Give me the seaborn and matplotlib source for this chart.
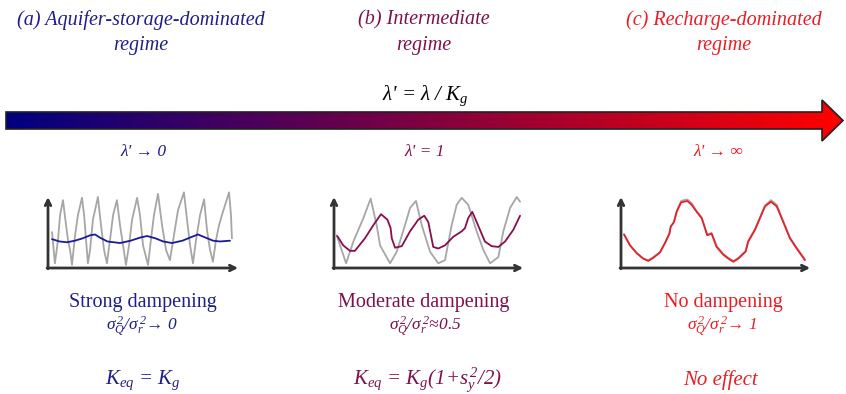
import matplotlib
matplotlib.use("Agg")
import matplotlib.pyplot as plt
import numpy as np
import seaborn as sns
from matplotlib.colors import LinearSegmentedColormap
from matplotlib.patches import Polygon

# ---------------------------------------------------------------------------
# Data (time 0..100, signal 0..10)
# ---------------------------------------------------------------------------
a_recharge_t = [2.1, 3.6, 5.2, 6.3, 7.8, 9.4, 10.4, 11.5, 12.5, 14.1, 15.6, 17.7,
                18.8, 19.8, 20.8, 21.9, 23.4, 26.0, 27.6, 29.2, 30.7, 32.3, 33.9,
                35.9, 37.5, 39.1, 40.6, 42.2, 43.8, 46.4, 47.9, 49.5, 52.1, 53.6,
                55.2, 57.3, 59.4, 61.5, 63.5, 65.6, 67.7, 70.8, 72.4, 74.0, 75.5,
                77.1, 79.2, 81.3, 82.8, 84.4, 85.9, 87.5, 89.1, 90.6, 94.3, 95.3,
                95.8]
a_recharge_y = [4.6, 0.6, 3.6, 6.8, 8.7, 5.5, 3.6, 2.3, 0.4, 4.2, 6.8, 9.0,
                6.8, 3.6, 0.6, 2.3, 6.2, 9.1, 5.5, 2.3, 0.6, 3.6, 6.8,
                8.7, 5.5, 2.9, 0.4, 2.9, 6.2, 9.0, 6.8, 2.9, 0.4, 3.6,
                6.8, 9.5, 5.5, 2.3, 1.0, 4.2, 7.4, 9.7, 6.2, 2.9, 0.6,
                3.6, 6.8, 8.8, 4.9, 2.3, 0.8, 3.6, 5.5, 6.8, 9.7, 6.8,
                3.8]
a_flow_t = [2.1, 6.0, 9.9, 14.0, 18.0, 22.0, 24.5, 27.0, 31.0, 37.5, 43.0, 48.0,
            51.6, 56.0, 60.0, 64.6, 70.0, 75.0, 78.1, 82.0, 86.0, 89.6, 94.8]
a_flow_y = [3.7, 3.4, 3.3, 3.5, 3.8, 4.2, 4.3, 3.9, 3.4, 3.2, 3.5, 3.9,
            4.1, 3.8, 3.4, 3.2, 3.5, 4.0, 4.3, 3.9, 3.5, 3.4, 3.5]

b_recharge_t = [1.4, 6.3, 10.1, 15.3, 19.1, 22.2, 24.0, 29.2, 32.7, 37.0, 39.6,
                42.7, 45.7, 50.0, 54.3, 57.8, 61.3, 63.9, 66.5, 69.9, 74.3, 77.8,
                81.3, 85.6, 88.2, 91.7, 95.2, 96.9]
b_recharge_y = [4.2, 0.6, 3.4, 6.4, 8.9, 5.5, 2.9, 0.6, 2.1, 5.5, 7.7,
                8.6, 5.5, 2.1, 0.6, 1.0, 5.5, 8.1, 9.0, 8.1, 4.7, 2.3,
                0.6, 1.4, 4.7, 7.7, 9.1, 8.5]
b_flow_t = [1.7, 4.8, 8.3, 10.9, 16.1, 20.5, 24.5, 27.8, 29.5, 30.1, 31.8, 35.3,
            39.6, 43.9, 47.0, 49.1, 51.7, 54.3, 57.8, 62.1, 66.5, 68.2, 69.9,
            72.0, 74.3, 78.6, 82.1, 85.6, 89.1, 93.4, 96.9]
b_flow_y = [4.1, 2.9, 2.2, 2.2, 3.8, 5.5, 6.9, 6.2, 5.1, 3.8, 2.6, 2.8,
            4.7, 6.2, 6.7, 5.9, 2.7, 2.5, 2.9, 4.0, 4.7, 5.1, 6.4,
            7.2, 5.9, 3.4, 2.8, 2.7, 3.4, 4.9, 6.7]

c_t = [1.6, 4.7, 8.2, 11.6, 14.2, 16.8, 20.3, 22.9, 25.2, 25.9, 27.6, 29.0,
       31.3, 34.5, 36.8, 39.4, 42.0, 43.2, 44.9, 47.2, 49.8, 53.3, 55.9, 58.5,
       61.1, 64.9, 66.3, 69.8, 72.4, 75.0, 78.1, 81.1, 84.5, 88.0, 91.5, 95.8]
c_recharge_y = [4.3, 2.9, 1.9, 1.2, 1.0, 1.4, 2.0, 3.2, 4.4, 5.3, 5.9, 7.3,
                8.6, 8.8, 8.3, 7.3, 6.5, 5.6, 4.3, 4.5, 2.8, 1.8, 1.3, 0.9,
                1.3, 2.2, 3.5, 5.0, 6.5, 8.0, 8.7, 8.1, 6.0, 3.9, 2.6, 1.1]
c_flow_y = [4.3, 2.9, 1.9, 1.2, 0.9, 1.3, 2.0, 3.2, 4.4, 5.3, 5.9, 7.2,
            8.4, 8.6, 8.1, 7.2, 6.4, 5.5, 4.2, 4.4, 2.7, 1.7, 1.2, 0.8,
            1.2, 2.1, 3.4, 4.9, 6.4, 7.9, 8.5, 7.9, 5.9, 3.8, 2.5, 1.0]

# ---------------------------------------------------------------------------
# Style
# ---------------------------------------------------------------------------
sns.set_theme(style="white")
plt.rcParams["font.family"] = ["Liberation Serif", "DejaVu Serif"]
plt.rcParams["mathtext.fontset"] = "custom"
plt.rcParams["mathtext.rm"] = "Liberation Serif:italic"
plt.rcParams["mathtext.it"] = "Liberation Serif:italic"
plt.rcParams["mathtext.default"] = "it"

COL_A = "#1f1f8c"
COL_B = "#80104c"
COL_C = "#ec1c24"
GREY = "#a6a6a6"
AXC = "#333333"

fig = plt.figure(figsize=(8.46, 3.94), dpi=100)
W, H = 846, 394

# Overlay axes in pixel units for the arrow and the text
bg = fig.add_axes([0, 0, 1, 1])
bg.set_xlim(0, W)
bg.set_ylim(H, 0)
bg.axis("off")

# Gradient arrow
cmap = LinearSegmentedColormap.from_list("regime", ["#000080", "#ff0000"])
arrow_xy = [(6, 112), (822, 112), (822, 100), (843, 120.5), (822, 141),
            (822, 129), (6, 129)]
grad = np.linspace(0, 1, 512).reshape(1, -1)
im = bg.imshow(grad, cmap=cmap, aspect="auto", extent=(6, 843, 141, 100),
               zorder=1)
clip = Polygon(arrow_xy, closed=True, transform=bg.transData)
im.set_clip_path(clip)
bg.add_patch(Polygon(arrow_xy, closed=True, fill=False, edgecolor="#222222",
                     linewidth=1.2, zorder=2))

# Titles
title_kw = dict(ha="center", va="center", fontsize=14.5, style="italic")
bg.text(141, 20, "(a) Aquifer-storage-dominated", color=COL_A, **title_kw)
bg.text(141, 45, "regime", color=COL_A, **title_kw)
bg.text(424, 20, "(b) Intermediate", color=COL_B, **title_kw)
bg.text(424, 45, "regime", color=COL_B, **title_kw)
bg.text(724, 20, "(c) Recharge-dominated", color=COL_C, **title_kw)
bg.text(724, 45, "regime", color=COL_C, **title_kw)

bg.text(425, 96, "λ' = λ / $K_g$", ha="center", va="center",
        fontsize=15, style="italic", color="black")

lam_kw = dict(ha="center", va="center", fontsize=12.5, style="italic")
bg.text(143, 152, "λ' → 0", color=COL_A, **lam_kw)
bg.text(425, 152, "λ' = 1", color=COL_B, **lam_kw)
bg.text(718, 152, "λ' → ∞", color=COL_C, **lam_kw)

# Bottom labels
bg.text(143, 303, "Strong dampening", ha="center", va="center", fontsize=14.5,
        color=COL_A)
bg.text(424, 303, "Moderate dampening", ha="center", va="center",
        fontsize=14.5, color=COL_B)
bg.text(723, 303, "No dampening", ha="center", va="center", fontsize=14.5,
        color=COL_C)

sig_kw = dict(ha="center", va="center", fontsize=12.5, style="italic")
bg.text(142, 327, r"$\sigma_Q^{\,2}/\sigma_r^{\,2}$→ 0", color=COL_A, **sig_kw)
bg.text(425, 327, r"$\sigma_Q^{\,2}/\sigma_r^{\,2}$≈0.5", color=COL_B, **sig_kw)
bg.text(722, 327, r"$\sigma_Q^{\,2}/\sigma_r^{\,2}$→ 1", color=COL_C, **sig_kw)

keq_kw = dict(ha="center", va="center", fontsize=15, style="italic")
bg.text(143, 380, "$K_{eq}$ = $K_g$", color=COL_A, **keq_kw)
bg.text(428, 380, "$K_{eq}$ = $K_g$(1+$s_y^{\\,2}$/2)", color=COL_B, **keq_kw)
bg.text(720, 380, "No effect", color=COL_C, **keq_kw)


# ---------------------------------------------------------------------------
# Small sketches
# ---------------------------------------------------------------------------
def sketch(left_px, grey_t, grey_y, col_t, col_y, color, xfrac=0.99):
    ax = fig.add_axes([left_px / W, 1 - 268 / H, 192 / W, 78 / H])
    ax.set_xlim(0, 100)
    ax.set_ylim(0, 10)
    ax.axis("off")
    sns.lineplot(x=grey_t, y=grey_y, ax=ax, color=GREY, linewidth=1.3,
                 sort=False, estimator=None)
    sns.lineplot(x=col_t, y=col_y, ax=ax, color=color, linewidth=1.3,
                 sort=False, estimator=None)
    arrow = dict(arrowstyle="->", color=AXC, lw=2, shrinkA=0, shrinkB=0,
                 mutation_scale=10)
    ax.annotate("", xy=(0, 0.91), xytext=(0, -0.01), xycoords="axes fraction",
                arrowprops=arrow, annotation_clip=False)
    ax.annotate("", xy=(xfrac, 0), xytext=(-0.005, 0),
                xycoords="axes fraction", arrowprops=arrow,
                annotation_clip=False)
    return ax


sketch(48, a_recharge_t, a_recharge_y, a_flow_t, a_flow_y, "#1a1a9a")
sketch(334, b_recharge_t, b_recharge_y, b_flow_t, b_flow_y, "#8b0d4e",
       xfrac=0.985)
sketch(621, c_t, c_recharge_y, c_t, c_flow_y, "#e8202a", xfrac=0.985)

fig.savefig("out.png", dpi=100)
